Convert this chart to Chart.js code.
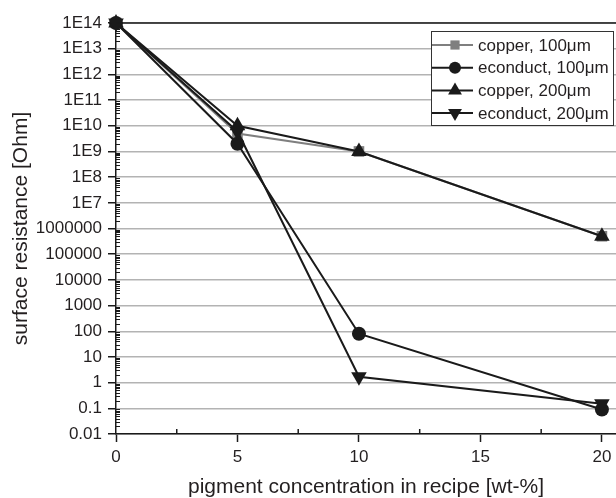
<!DOCTYPE html>
<html><head><meta charset="utf-8">
<script src="https://cdn.jsdelivr.net/npm/chart.js@4.4.1/dist/chart.umd.min.js"></script>
<style>html,body{margin:0;padding:0;background:#fff}canvas{display:block}</style>
</head><body>
<canvas id="c" width="616" height="498"></canvas>
<script>
const concentrations = [0, 5, 10, 20];
const copper100 = [1e14, 5e9, 1e9, 5e5];
const econduct100 = [1e14, 2e9, 80, 0.09];
const copper200 = [1e14, 1e10, 1e9, 5e5];
const econduct200 = [1e14, 6e9, 1.7, 0.15];
const seriesNames = ['copper, 100\u03bcm', 'econduct, 100\u03bcm', 'copper, 200\u03bcm', 'econduct, 200\u03bcm'];
const xTicks = [0, 5, 10, 15, 20];
const xMinorTicks = [2.5, 7.5, 12.5, 17.5];
const yTicks = [0.01, 0.1, 1, 10, 100, 1000, 10000, 100000, 1000000, 1e7, 1e8, 1e9, 1e10, 1e11, 1e12, 1e13, 1e14];
const yTickLabels = ['0.01','0.1','1','10','100','1000','10000','100000','1000000','1E7','1E8','1E9','1E10','1E11','1E12','1E13','1E14'];
const yMinorFactors = [2,3,4,5,6,7,8,9];

const FONT = "'Liberation Sans', Arial, sans-serif";
const TEXT = '#231f20';
const BLACK = '#1a1a1a';
const GRAY = '#7f7f7f';

function pts(vals){ return concentrations.map((x,i)=>({x:x, y:vals[i]})); }

const styles = [
  {color: GRAY, pointStyle: 'rect', radius: 7.5, rotation: 0, order: 4},
  {color: BLACK, pointStyle: 'circle', radius: 7, rotation: 0, order: 3},
  {color: BLACK, pointStyle: 'triangle', radius: 9, rotation: 0, order: 2},
  {color: BLACK, pointStyle: 'triangle', radius: 9, rotation: 180, order: 1}
];
const allSeries = [copper100, econduct100, copper200, econduct200];

const datasets = allSeries.map((vals, i) => ({
  label: seriesNames[i],
  data: pts(vals),
  borderColor: styles[i].color,
  backgroundColor: styles[i].color,
  pointBackgroundColor: styles[i].color,
  pointBorderColor: styles[i].color,
  pointBorderWidth: 0,
  pointStyle: styles[i].pointStyle,
  pointRadius: styles[i].radius,
  pointRotation: styles[i].rotation,
  borderWidth: 2,
  tension: 0,
  clip: false,
  order: styles[i].order
}));

const extras = {
  id: 'extras',
  afterDraw(chart) {
    const ctx = chart.ctx, a = chart.chartArea;
    const xs = chart.scales.x, ys = chart.scales.y;
    ctx.save();
    // top border
    ctx.strokeStyle = BLACK; ctx.lineWidth = 1.5;
    ctx.beginPath(); ctx.moveTo(a.left, a.top); ctx.lineTo(a.right, a.top); ctx.stroke();
    // minor y ticks
    ctx.lineWidth = 1;
    for (let i = 0; i < yTicks.length - 1; i++) {
      for (const f of yMinorFactors) {
        const y = Math.round(ys.getPixelForValue(yTicks[i] * f)) + 0.5;
        ctx.beginPath(); ctx.moveTo(a.left, y); ctx.lineTo(a.left + 4, y); ctx.stroke();
      }
    }
    // minor x ticks
    ctx.lineWidth = 1.5;
    for (const v of xMinorTicks) {
      const x = xs.getPixelForValue(v);
      ctx.beginPath(); ctx.moveTo(x, a.bottom); ctx.lineTo(x, a.bottom - 5); ctx.stroke();
    }
    // legend
    const bw = 182, bh = 94;
    const bx = a.right - bw - 3, by = a.top + 8;
    ctx.fillStyle = '#fff';
    ctx.fillRect(bx, by, bw, bh);
    ctx.strokeStyle = '#333'; ctx.lineWidth = 1;
    ctx.strokeRect(bx + 0.5, by + 0.5, bw, bh);
    ctx.font = '17px ' + FONT;
    ctx.textBaseline = 'middle';
    for (let i = 0; i < seriesNames.length; i++) {
      const y = by + 14 + i * 22.7;
      const s = styles[i];
      ctx.strokeStyle = s.color; ctx.lineWidth = 2;
      ctx.beginPath(); ctx.moveTo(bx + 1, y); ctx.lineTo(bx + 42, y); ctx.stroke();
      ctx.fillStyle = s.color;
      if (Chart.helpers && Chart.helpers.drawPoint) {
        Chart.helpers.drawPoint(ctx, {pointStyle: s.pointStyle, radius: s.radius - 1, rotation: s.rotation, borderWidth: 0}, bx + 24, y);
      }
      ctx.fillStyle = TEXT;
      ctx.fillText(seriesNames[i], bx + 47, y + 1);
    }
    ctx.restore();
  }
};

new Chart(document.getElementById('c'), {
  type: 'line',
  data: { datasets },
  options: {
    responsive: false,
    animation: false,
    devicePixelRatio: 1,
    layout: { autoPadding: false, padding: { top: 23, right: 0, left: 0, bottom: 0 } },
    plugins: { legend: { display: false }, tooltip: { enabled: false } },
    scales: {
      x: {
        type: 'linear', min: 0, max: 20.58,
        afterBuildTicks: (s) => { s.ticks = xTicks.map(v => ({value: v})); },
        afterFit: (s) => { s.height = 64; s.paddingRight = 0; s.paddingLeft = 0; },
        ticks: { font: { size: 17, family: FONT }, color: TEXT, padding: 5, maxRotation: 0, includeBounds: false },
        grid: { drawOnChartArea: false, drawTicks: true, tickLength: 8, tickColor: BLACK, tickWidth: 1.5 },
        border: { display: true, color: BLACK, width: 1.5 },
        title: { display: true, text: 'pigment concentration in recipe [wt-%]', color: TEXT,
                 font: { size: 21, family: FONT, lineHeight: 1.05 }, padding: { top: 0, bottom: 0 } }
      },
      y: {
        type: 'logarithmic', min: 0.01, max: 1e14,
        afterBuildTicks: (s) => { s.ticks = yTicks.map(v => ({value: v})); },
        afterFit: (s) => { s.width = 116; s.paddingTop = 0; s.paddingBottom = 0; },
        ticks: { font: { size: 17, family: FONT }, color: TEXT, padding: 6,
                 callback: (v, i) => yTickLabels[i] },
        grid: { color: '#b3b3b3', lineWidth: 1.5, drawTicks: true, tickLength: 8, tickColor: BLACK, tickWidth: 1.5 },
        border: { display: true, color: BLACK, width: 1.5 },
        title: { display: true, text: 'surface resistance [Ohm]', color: TEXT,
                 font: { size: 21, family: FONT, lineHeight: 1.15 }, padding: { top: 9, bottom: 0 } }
      }
    }
  },
  plugins: [extras]
});
</script>
</body></html>
